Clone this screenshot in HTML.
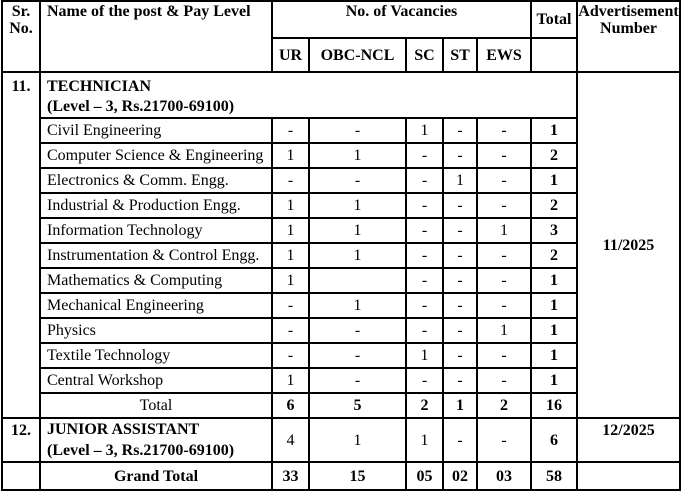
<!DOCTYPE html>
<html><head><meta charset="utf-8"><style>
html,body{margin:0;padding:0;background:#fff;width:682px;height:490px;overflow:hidden}
table{position:absolute;left:1px;top:0px;border-collapse:collapse;table-layout:fixed;font-family:"Liberation Serif",serif;font-size:16px;color:#000}
td{border:2px solid #000;padding:0;text-align:center;vertical-align:middle;line-height:17px;overflow:hidden;white-space:nowrap}
.b{font-weight:bold}
.l{text-align:left;padding-left:6px}
.t{vertical-align:top}
</style></head><body>
<table>
<colgroup><col style="width:38px"><col style="width:232px"><col style="width:37px"><col style="width:97px"><col style="width:37px"><col style="width:34px"><col style="width:54px"><col style="width:46px"><col style="width:103px"></colgroup>
<tr style="height:37px">
<td rowspan="2" class="b t" style="padding-top:1px">Sr.<br>No.</td>
<td rowspan="2" class="b t l" style="padding-top:1px">Name of the post &amp; Pay Level</td>
<td colspan="5" class="b t" style="padding-top:1px">No. of Vacancies</td>
<td class="b">Total</td>
<td rowspan="2" class="b t" style="padding-top:1px;line-height:17px">Advertisement<br>Number</td>
</tr>
<tr style="height:34px"><td class="b">UR</td><td class="b">OBC-NCL</td><td class="b">SC</td><td class="b">ST</td><td class="b">EWS</td><td></td></tr>
<tr style="height:46px">
<td rowspan="13" class="b t" style="padding-top:5px">11.</td>
<td colspan="7" class="b l t" style="padding-top:4px;line-height:20px">TECHNICIAN<br>(Level – 3, Rs.21700-69100)</td>
<td rowspan="13" class="b">11/2025</td>
</tr>
<tr style="height:25px"><td class="l">Civil Engineering</td><td>-</td><td>-</td><td>1</td><td>-</td><td>-</td><td class="b">1</td></tr>
<tr style="height:25px"><td class="l">Computer Science &amp; Engineering</td><td>1</td><td>1</td><td>-</td><td>-</td><td>-</td><td class="b">2</td></tr>
<tr style="height:25px"><td class="l">Electronics &amp; Comm. Engg.</td><td>-</td><td>-</td><td>-</td><td>1</td><td>-</td><td class="b">1</td></tr>
<tr style="height:25px"><td class="l">Industrial &amp; Production Engg.</td><td>1</td><td>1</td><td>-</td><td>-</td><td>-</td><td class="b">2</td></tr>
<tr style="height:25px"><td class="l">Information Technology</td><td>1</td><td>1</td><td>-</td><td>-</td><td>1</td><td class="b">3</td></tr>
<tr style="height:25px"><td class="l">Instrumentation &amp; Control Engg.</td><td>1</td><td>1</td><td>-</td><td>-</td><td>-</td><td class="b">2</td></tr>
<tr style="height:25px"><td class="l">Mathematics &amp; Computing</td><td>1</td><td></td><td>-</td><td>-</td><td>-</td><td class="b">1</td></tr>
<tr style="height:25px"><td class="l">Mechanical Engineering</td><td>-</td><td>1</td><td>-</td><td>-</td><td>-</td><td class="b">1</td></tr>
<tr style="height:25px"><td class="l">Physics</td><td>-</td><td>-</td><td>-</td><td>-</td><td>1</td><td class="b">1</td></tr>
<tr style="height:25px"><td class="l">Textile Technology</td><td>-</td><td>-</td><td>1</td><td>-</td><td>-</td><td class="b">1</td></tr>
<tr style="height:25px"><td class="l">Central Workshop</td><td>1</td><td>-</td><td>-</td><td>-</td><td>-</td><td class="b">1</td></tr>
<tr style="height:25px"><td>Total</td><td class="b">6</td><td class="b">5</td><td class="b">2</td><td class="b">1</td><td class="b">2</td><td class="b">16</td></tr>
<tr style="height:43px">
<td class="b t" style="padding-top:3px">12.</td>
<td class="b l" style="line-height:21px">JUNIOR ASSISTANT<br>(Level – 3, Rs.21700-69100)</td>
<td>4</td><td>1</td><td>1</td><td>-</td><td>-</td><td class="b">6</td>
<td class="b t" style="padding-top:3px">12/2025</td>
</tr>
<tr style="height:28px"><td></td><td class="b">Grand Total</td><td class="b">33</td><td class="b">15</td><td class="b">05</td><td class="b">02</td><td class="b">03</td><td class="b">58</td><td></td></tr>
</table>
</body></html>
